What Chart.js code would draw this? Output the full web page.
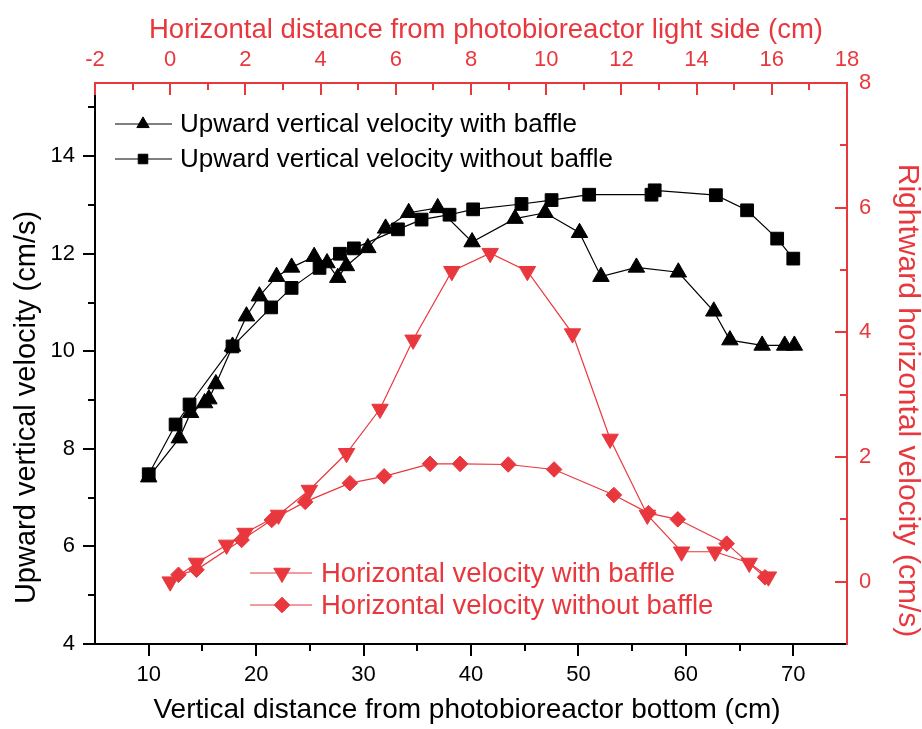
<!DOCTYPE html>
<html><head><meta charset="utf-8">
<script src="https://cdn.jsdelivr.net/npm/chart.js@4.4.1/dist/chart.umd.min.js"></script>
<style>html,body{margin:0;padding:0;background:#fff}#wrap{width:922px;height:729px}</style>
</head><body><div id="wrap"><canvas id="c" width="922" height="729"></canvas></div>
<script>
// ---- data ----
const vertDistWithBaffle = [10, 12.85, 13.9, 15.2, 15.6, 16.25, 17.8, 19.1, 20.3, 21.9, 23.3, 25.4, 26.6, 27.6, 28.4, 30.4, 32.05, 34.2, 36.9, 40.1, 44.1, 46.9, 50.1, 52.1, 55.4, 59.3, 62.6, 64.1, 67.1, 69.2, 70.1];
const vertVelWithBaffle  = [7.42, 8.22, 8.74, 8.94, 9.02, 9.33, 10.1, 10.72, 11.13, 11.53, 11.72, 11.94, 11.81, 11.51, 11.75, 12.12, 12.52, 12.84, 12.94, 12.24, 12.72, 12.84, 12.43, 11.53, 11.72, 11.62, 10.82, 10.23, 10.12, 10.12, 10.12];
const vertDistNoBaffle   = [10, 12.5, 13.8, 17.8, 21.4, 23.3, 25.9, 27.8, 29.1, 33.2, 35.4, 38.0, 40.2, 44.7, 47.5, 51.0, 56.8, 57.1, 62.8, 65.7, 68.5, 70.0];
const vertVelNoBaffle    = [7.48, 8.5, 8.91, 10.1, 10.9, 11.3, 11.71, 12.0, 12.11, 12.5, 12.7, 12.8, 12.91, 13.02, 13.1, 13.21, 13.21, 13.3, 13.2, 12.89, 12.31, 11.9];
const horizDistWithBaffle = [0.0, 0.70, 1.50, 1.99, 2.88, 3.70, 4.69, 5.58, 6.46, 7.49, 8.51, 9.50, 10.70, 11.70, 12.69, 13.60, 14.49, 15.40, 15.91];
const horizVelWithBaffle  = [0.0, 0.30, 0.59, 0.78, 1.07, 1.47, 2.06, 2.77, 3.88, 4.98, 5.27, 4.98, 3.98, 2.29, 1.07, 0.48, 0.48, 0.30, 0.08];
const horizDistNoBaffle   = [0.22, 0.70, 1.90, 2.70, 3.59, 4.78, 5.69, 6.91, 7.71, 8.99, 10.21, 11.80, 12.72, 13.50, 14.80, 15.82];
const horizVelNoBaffle    = [0.11, 0.19, 0.67, 0.99, 1.28, 1.58, 1.69, 1.89, 1.89, 1.88, 1.80, 1.39, 1.10, 1.00, 0.61, 0.07];

const seriesLabels = [
  'Upward vertical velocity with baffle',
  'Upward vertical velocity without baffle',
  'Horizontal velocity with baffle',
  'Horizontal velocity without baffle'
];

const axisTitles = {
  bottom: 'Vertical distance from photobioreactor bottom (cm)',
  left: 'Upward vertical velocity (cm/s)',
  top: 'Horizontal distance from photobioreactor light side (cm)',
  right: 'Rightward horizontal velocity (cm/s)'
};

const bottomTicks = [10, 20, 30, 40, 50, 60, 70];
const bottomMinor = [15, 25, 35, 45, 55, 65];
const leftTicks = [4, 6, 8, 10, 12, 14];
const leftMinor = [5, 7, 9, 11, 13, 15];
const topTicks = [-2, 0, 2, 4, 6, 8, 10, 12, 14, 16, 18];
const topMinor = [-1, 1, 3, 5, 7, 9, 11, 13, 15, 17];
const rightTicks = [0, 2, 4, 6, 8];
const rightMinor = [1, 3, 5, 7];

// ---- styling ----
const BLACK = '#000000';
const RED = '#e8383e';
const FONT = '"Liberation Sans", Arial, sans-serif';
const TICK_SIZE = 22;

function pts(xs, ys) { return xs.map((x, i) => ({x: x, y: ys[i]})); }

const datasets = [
  {label: seriesLabels[0], data: pts(vertDistWithBaffle, vertVelWithBaffle), xAxisID: 'x', yAxisID: 'y',
   borderColor: BLACK, backgroundColor: BLACK, borderWidth: 1.2, pointStyle: 'triangle', pointRadius: 9.5,
   pointBorderWidth: 1, pointBorderColor: BLACK, pointBackgroundColor: BLACK, pointRotation: 0, showLine: true},
  {label: seriesLabels[1], data: pts(vertDistNoBaffle, vertVelNoBaffle), xAxisID: 'x', yAxisID: 'y',
   borderColor: BLACK, backgroundColor: BLACK, borderWidth: 1.2, pointStyle: 'rect', pointRadius: 9,
   pointBorderWidth: 1, pointBorderColor: BLACK, pointBackgroundColor: BLACK, pointRotation: 0, showLine: true},
  {label: seriesLabels[2], data: pts(horizDistWithBaffle, horizVelWithBaffle), xAxisID: 'x2', yAxisID: 'y2',
   borderColor: RED, backgroundColor: RED, borderWidth: 1.2, pointStyle: 'triangle', pointRadius: 9.5,
   pointBorderWidth: 1, pointBorderColor: RED, pointBackgroundColor: RED, pointRotation: 180, showLine: true},
  {label: seriesLabels[3], data: pts(horizDistNoBaffle, horizVelNoBaffle), xAxisID: 'x2', yAxisID: 'y2',
   borderColor: RED, backgroundColor: RED, borderWidth: 1.2, pointStyle: 'rectRot', pointRadius: 7.8,
   pointBorderWidth: 1, pointBorderColor: RED, pointBackgroundColor: RED, pointRotation: 0, showLine: true}
];

function fixedTicks(values) {
  return function(scale) { scale.ticks = values.map(v => ({value: v})); };
}

function axisCfg(opts) {
  return {
    type: 'linear', position: opts.position, min: opts.min, max: opts.max,
    afterBuildTicks: fixedTicks(opts.ticks),
    afterFit: opts.fit,
    grid: {display: true, drawOnChartArea: false, drawTicks: false, color: opts.color},
    border: {display: true, color: opts.color, width: 2},
    ticks: {color: opts.color, padding: opts.pad, font: {family: FONT, size: TICK_SIZE}, maxRotation: 0, autoSkip: false,
            callback: v => String(v)},
    title: {display: false, text: opts.title}
  };
}

const tickPlugin = {
  id: 'axisTicks',
  afterDraw(chart) {
    const ctx = chart.ctx;
    const s = chart.scales;
    const defs = [
      {scale: s.x, major: bottomTicks, minor: bottomMinor, color: BLACK, dir: 1, horiz: true, edge: 'bottom'},
      {scale: s.y, major: leftTicks, minor: leftMinor, color: BLACK, dir: -1, horiz: false, edge: 'left'},
      {scale: s.x2, major: topTicks, minor: topMinor, color: RED, dir: 1, horiz: true, edge: 'top'},
      {scale: s.y2, major: rightTicks, minor: rightMinor, color: RED, dir: -1, horiz: false, edge: 'right'}
    ];
    const ca = chart.chartArea;
    ctx.save();
    ctx.lineWidth = 2;
    defs.forEach(d => {
      ctx.strokeStyle = d.color;
      const base = ca[d.edge];
      [[d.major, 12], [d.minor, 7]].forEach(([vals, len]) => {
        vals.forEach(v => {
          const p = Math.round(d.scale.getPixelForValue(v));
          ctx.beginPath();
          if (d.horiz) { ctx.moveTo(p, base); ctx.lineTo(p, base + d.dir * len); }
          else { ctx.moveTo(base, p); ctx.lineTo(base + d.dir * len, p); }
          ctx.stroke();
        });
      });
    });
    ctx.restore();
  }
};

const titlePlugin = {
  id: 'axisTitles',
  afterDraw(chart) {
    const ctx = chart.ctx;
    const ca = chart.chartArea;
    const cx = (ca.left + ca.right) / 2;
    const cy = (ca.top + ca.bottom) / 2;
    const defs = [
      {text: axisTitles.bottom, color: BLACK, size: 28, x: cx - 4, y: 718, rot: 0},
      {text: axisTitles.top, color: RED, size: 27.5, x: cx + 15, y: 38, rot: 0},
      {text: axisTitles.left, color: BLACK, size: 29, x: 35, y: cy + 44, rot: -Math.PI / 2},
      {text: axisTitles.right, color: RED, size: 30, x: 899, y: cy + 37, rot: Math.PI / 2}
    ];
    ctx.save();
    defs.forEach(d => {
      ctx.save();
      ctx.translate(d.x, d.y);
      ctx.rotate(d.rot);
      ctx.fillStyle = d.color;
      ctx.font = d.size + 'px ' + FONT;
      ctx.textAlign = 'center';
      ctx.textBaseline = 'alphabetic';
      ctx.fillText(d.text, 0, 0);
      ctx.restore();
    });
    ctx.restore();
  }
};

function drawMarker(ctx, style, r, rot, x, y, color) {
  ctx.save();
  ctx.fillStyle = color; ctx.strokeStyle = color; ctx.lineWidth = 1;
  if (Chart.helpers && Chart.helpers.drawPoint) {
    Chart.helpers.drawPoint(ctx, {pointStyle: style, radius: r, rotation: rot, borderWidth: 1}, x, y);
  }
  ctx.restore();
}

const legendPlugin = {
  id: 'twoLegends',
  afterDatasetsDraw(chart) {
    const ctx = chart.ctx;
    const groups = [
      {items: [0, 1], x0: 115, x1: 172, mx: 143, tx: 180, ys: [124, 159], color: BLACK, size: 26, rScale: 0.75},
      {items: [2, 3], x0: 250, x1: 312, mx: 282, tx: 321, ys: [573, 605], color: RED, size: 27.5, rScale: 1}
    ];
    ctx.save();
    groups.forEach(g => {
      g.items.forEach((di, k) => {
        const ds = chart.data.datasets[di];
        const y = g.ys[k];
        ctx.strokeStyle = ds.borderColor; ctx.lineWidth = ds.borderWidth;
        ctx.beginPath(); ctx.moveTo(g.x0, y); ctx.lineTo(g.x1, y); ctx.stroke();
        drawMarker(ctx, ds.pointStyle, ds.pointRadius * g.rScale, ds.pointRotation, g.mx, y, ds.pointBackgroundColor);
        ctx.fillStyle = g.color;
        ctx.font = g.size + 'px ' + FONT;
        ctx.textBaseline = 'middle'; ctx.textAlign = 'left';
        ctx.fillText(ds.label, g.tx, y + 1);
      });
    });
    ctx.restore();
  }
};

new Chart(document.getElementById('c'), {
  type: 'scatter',
  data: {datasets: datasets},
  options: {
    responsive: false, animation: false, devicePixelRatio: 1,
    layout: {padding: 0},
    plugins: {legend: {display: false}, tooltip: {enabled: false}},
    scales: {
      x: axisCfg({position: 'bottom', min: 5, max: 75, ticks: bottomTicks, color: BLACK, pad: 18,
                  title: axisTitles.bottom, fit: s => { s.height = 85; }}),
      y: axisCfg({position: 'left', min: 4, max: 15.5, ticks: leftTicks, color: BLACK, pad: 20,
                  title: axisTitles.left, fit: s => { s.width = 95; }}),
      x2: axisCfg({position: 'top', min: -2, max: 18, ticks: topTicks, color: RED, pad: 10,
                   title: axisTitles.top, fit: s => { s.height = 83; }}),
      y2: axisCfg({position: 'right', min: -1, max: 8, ticks: rightTicks, color: RED, pad: 12,
                   title: axisTitles.right, fit: s => { s.width = 75; }})
    }
  },
  plugins: [tickPlugin, titlePlugin, legendPlugin]
});
</script>
</body></html>
